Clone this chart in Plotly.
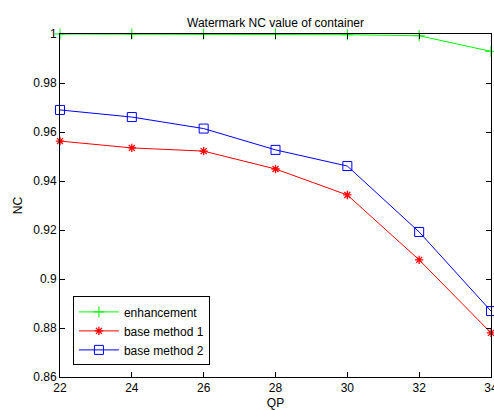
import plotly.graph_objects as go

# QP settings and NC values for each method
qp = [22, 24, 26, 28, 30, 32, 34]
nc_enhancement = [1.0, 1.0, 1.0, 1.0, 0.9997, 0.9993, 0.9929]
nc_base1 = [0.9563, 0.9535, 0.9522, 0.9449, 0.9343, 0.9078, 0.8780]
nc_base2 = [0.9690, 0.9661, 0.9614, 0.9527, 0.9461, 0.9192, 0.8869]

x_ticks = [22, 24, 26, 28, 30, 32, 34]
y_ticks = [0.86, 0.88, 0.90, 0.92, 0.94, 0.96, 0.98, 1.0]
y_tick_text = ["0.86", "0.88", "0.9", "0.92", "0.94", "0.96", "0.98", "1"]

FONT = "Liberation Sans, Arial, sans-serif"

fig = go.Figure()
fig.add_trace(go.Scatter(
    x=qp, y=nc_enhancement, name="enhancement", mode="lines+markers",
    line=dict(color="#00ff00", width=1),
    marker=dict(symbol="cross-thin-open", size=8, color="#00ff00",
                line=dict(color="#00ff00", width=1)),
    cliponaxis=False,
))
fig.add_trace(go.Scatter(
    x=qp, y=nc_base1, name="base method 1", mode="lines+markers",
    line=dict(color="#ff0000", width=1),
    marker=dict(symbol="asterisk-open", size=7, color="#ff0000",
                line=dict(color="#ff0000", width=1.3)),
    cliponaxis=False,
))
fig.add_trace(go.Scatter(
    x=qp, y=nc_base2, name="base method 2", mode="lines+markers",
    line=dict(color="#0000ff", width=1),
    marker=dict(symbol="square-open", size=9, color="#0000ff",
                line=dict(color="#0000ff", width=1)),
    cliponaxis=False,
))

axis_common = dict(
    showgrid=False, zeroline=False, showline=True, linecolor="#000000",
    linewidth=1, mirror="ticks", ticks="inside", ticklen=5,
    tickcolor="#000000", tickfont=dict(family=FONT, size=12, color="#000000"),
    ticklabeloverflow="allow", automargin=False,
)

fig.update_layout(
    width=494, height=410,
    margin=dict(l=60, r=3, t=34, b=33),
    paper_bgcolor="#ffffff", plot_bgcolor="#ffffff",
    font=dict(family=FONT, size=12, color="#000000"),
    title=dict(text="Watermark NC value of container", x=0.5, xref="paper",
               y=1, yref="paper", yanchor="bottom", pad=dict(b=7),
               font=dict(family=FONT, size=12, color="#000000"),
               automargin=False),
    xaxis=dict(range=[22, 34], tickvals=x_ticks, ticktext=[str(v) for v in x_ticks],
               title=dict(text="QP", standoff=4, font=dict(family=FONT, size=12)),
               **axis_common),
    yaxis=dict(range=[0.86, 1.0], tickvals=y_ticks, ticktext=y_tick_text,
               title=dict(text="NC", standoff=8, font=dict(family=FONT, size=12)),
               **axis_common),
    legend=dict(x=0.03, y=0.235, xanchor="left", yanchor="top",
                bgcolor="#ffffff", bordercolor="#000000", borderwidth=1,
                font=dict(family=FONT, size=12, color="#000000"),
                tracegroupgap=0, itemwidth=40),
    showlegend=True,
)

fig.write_html("out.html")
